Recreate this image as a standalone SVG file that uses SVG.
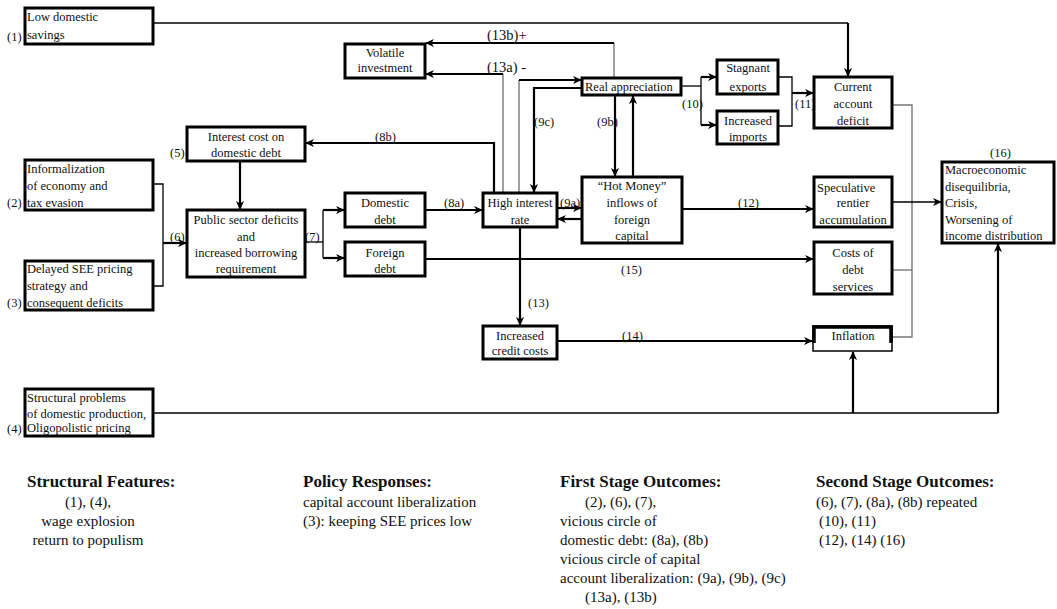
<svg xmlns="http://www.w3.org/2000/svg" width="1057" height="609" viewBox="0 0 1057 609">
<style>
.box{fill:#fff;stroke:#000;stroke-width:3}
text{font-family:"Liberation Serif","Times New Roman",serif;fill:#111}
.t{font-size:12.5px}
.m{text-anchor:middle}
.l{font-size:12.5px}
.big{font-size:14.5px}
.h{font-size:17px;font-weight:bold}
.b{font-size:15px}
.c{fill:none;stroke:#000;stroke-width:2.2}
.k{fill:none;stroke:#000;stroke-width:1.3}
.g{fill:none;stroke:#777;stroke-width:1.4}
.a{marker-end:url(#ah)}
</style>
<defs>
<marker id="ah" viewBox="0 0 10 10" refX="9" refY="5" markerWidth="9" markerHeight="9" markerUnits="userSpaceOnUse" orient="auto">
<path d="M0,0.5 L10,5 L0,9.5 L3,5 z" fill="#000"/>
</marker>
</defs>
<rect width="1057" height="609" fill="#fff"/>

<g id="connectors">
<path class="k" d="M153,23 H848"/>
<path class="c a" d="M848,23 V76"/>
<path class="g" d="M614,78 V43"/>
<path class="c a" d="M614,43 H426"/>
<path class="g" d="M503,193 V74"/>
<path class="c a" d="M503,74 H426"/>
<path class="g" d="M519,193 V80"/>
<path class="c a" d="M519,80 H581"/>
<path class="c a" d="M582,88 H534 V192"/>
<path class="c a" d="M615,95 V176"/>
<path class="c a" d="M633,177 V96"/>
<path class="c a" d="M557,208 H581"/>
<path class="c a" d="M582,219 H558"/>
<path class="c a" d="M425,210 H482"/>
<path class="c a" d="M494,193 V143 H306"/>
<path class="c a" d="M240,161 V209"/>
<path class="k" d="M153,184 H163 V286 H153"/>
<path class="c a" d="M163,243 H186"/>
<path class="k" d="M305,242 H323"/>
<path class="k" d="M323,210 V258"/>
<path class="c a" d="M323,210 H344"/>
<path class="c a" d="M323,258 H344"/>
<path class="c a" d="M425,259 H813"/>
<path class="c a" d="M520,227 V325"/>
<path class="c a" d="M557,341 H812"/>
<path class="k" d="M681,86 H701"/>
<path class="k" d="M701,77 V125"/>
<path class="c a" d="M701,77 H716"/>
<path class="c a" d="M701,125 H716"/>
<path class="k" d="M778,77 H792 V126 H778"/>
<path class="c a" d="M792,93 H813"/>
<path class="c a" d="M682,209 H813"/>
<path class="g" d="M892,105 H912 V337 H892"/>
<path class="g" d="M892,270 H912"/>
<path class="k a" d="M892,202 H941"/>
<path class="k" d="M153,413 H998"/>
<path class="c a" d="M998,413 V244"/>
<path class="c a" d="M853,413 V352"/>
<text class="big" x="487" y="40">(13b)+</text>
<text class="big" x="487" y="72">(13a) -</text>
<text class="l" x="534" y="126">(9c)</text>
<text class="l" x="597" y="126">(9b)</text>
<text class="l" x="375" y="141">(8b)</text>
<text class="l" x="444" y="207">(8a)</text>
<text class="l" x="560" y="207">(9a)</text>
<text class="l" x="738" y="207">(12)</text>
<text class="l" x="621" y="274">(15)</text>
<text class="l" x="528" y="307">(13)</text>
<text class="l" x="622" y="340">(14)</text>
<text class="l" x="682" y="108">(10)</text>
<text class="l" x="795" y="108">(11)</text>
<text class="l" x="305" y="241">(7)</text>
<text class="l" x="170" y="241">(6)</text>
</g>

<g id="n1">
<rect class="box" x="25" y="8" width="128" height="36"/>
<text class="t" x="27" y="21">Low domestic</text>
<text class="t" x="27" y="39">savings</text>
<text class="t" x="7" y="41">(1)</text>
</g>
<g id="n2">
<rect class="box" x="25" y="160" width="128" height="50"/>
<text class="t" x="27" y="173">Informalization</text>
<text class="t" x="27" y="190">of economy and</text>
<text class="t" x="27" y="207">tax evasion</text>
<text class="t" x="7" y="207">(2)</text>
</g>
<g id="n3">
<rect class="box" x="25" y="261" width="128" height="49"/>
<text class="t" x="27" y="273">Delayed SEE pricing</text>
<text class="t" x="27" y="290">strategy and</text>
<text class="t" x="27" y="307">consequent deficits</text>
<text class="t" x="7" y="307">(3)</text>
</g>
<g id="n4">
<rect class="box" x="25" y="389" width="128" height="47"/>
<text class="t" x="27" y="402">Structural problems</text>
<text class="t" x="27" y="418">of domestic production,</text>
<text class="t" x="27" y="432">Oligopolistic pricing</text>
<text class="t" x="7" y="433">(4)</text>
</g>
<g id="n5">
<rect class="box" x="187" y="127" width="118" height="34"/>
<text class="t m" x="246" y="141">Interest cost on</text>
<text class="t m" x="246" y="157">domestic debt</text>
<text class="t" x="170" y="157">(5)</text>
</g>
<g id="n6">
<rect class="box" x="187" y="210" width="118" height="67"/>
<text class="t m" x="246" y="224">Public sector deficits</text>
<text class="t m" x="246" y="241">and</text>
<text class="t m" x="246" y="257">increased borrowing</text>
<text class="t m" x="246" y="273">requirement</text>
</g>
<g id="n7">
<rect class="box" x="345" y="44" width="80" height="34"/>
<text class="t m" x="385" y="57">Volatile</text>
<text class="t m" x="385" y="72">investment</text>
</g>
<g id="n8">
<rect class="box" x="345" y="193" width="80" height="34"/>
<text class="t m" x="385" y="207">Domestic</text>
<text class="t m" x="385" y="224">debt</text>
</g>
<g id="n9">
<rect class="box" x="345" y="242" width="80" height="34"/>
<text class="t m" x="385" y="257">Foreign</text>
<text class="t m" x="385" y="273">debt</text>
</g>
<g id="n10">
<rect class="box" x="483" y="193" width="74" height="34"/>
<text class="t m" x="520" y="207">High interest</text>
<text class="t m" x="520" y="224">rate</text>
</g>
<g id="n11">
<rect class="box" x="483" y="326" width="74" height="33"/>
<text class="t m" x="520" y="340">Increased</text>
<text class="t m" x="520" y="355">credit costs</text>
</g>
<g id="n12">
<rect class="box" x="582" y="78" width="99" height="17"/>
<text class="t" x="585" y="91">Real appreciation</text>
</g>
<g id="n13">
<rect class="box" x="582" y="177" width="100" height="66"/>
<text class="t m" x="632" y="190">“Hot Money”</text>
<text class="t m" x="632" y="207">inflows of</text>
<text class="t m" x="632" y="224">foreign</text>
<text class="t m" x="632" y="240">capital</text>
</g>
<g id="n14">
<rect class="box" x="717" y="60" width="61" height="34"/>
<text class="t m" x="748" y="72">Stagnant</text>
<text class="t m" x="748" y="91">exports</text>
</g>
<g id="n15">
<rect class="box" x="717" y="111" width="61" height="33"/>
<text class="t m" x="748" y="125">Increased</text>
<text class="t m" x="748" y="141">imports</text>
</g>
<g id="n16">
<rect class="box" x="814" y="77" width="78" height="51"/>
<text class="t m" x="853" y="91">Current</text>
<text class="t m" x="853" y="108">account</text>
<text class="t m" x="853" y="125">deficit</text>
</g>
<g id="n17">
<rect class="box" x="814" y="177" width="78" height="50"/>
<text class="t" x="817" y="192">Speculative</text>
<text class="t m" x="853" y="207">rentier</text>
<text class="t m" x="853" y="224">accumulation</text>
</g>
<g id="n18">
<rect class="box" x="814" y="242" width="78" height="52"/>
<text class="t m" x="853" y="257">Costs of</text>
<text class="t m" x="853" y="274">debt</text>
<text class="t m" x="853" y="291">services</text>
</g>
<g id="n19">
<rect x="813" y="326" width="79" height="25" fill="#fff" stroke="#000" stroke-width="1.5"/>
<path d="M814,343 V327 H891 V343" fill="none" stroke="#000" stroke-width="3.5"/>
<text class="t m" x="853" y="340">Inflation</text>
</g>
<g id="n20">
<rect class="box" x="942" y="162" width="112" height="81"/>
<text class="t" x="990" y="157">(16)</text>
<text class="t" x="945" y="174">Macroeconomic</text>
<text class="t" x="945" y="191">disequilibria,</text>
<text class="t" x="945" y="207">Crisis,</text>
<text class="t" x="945" y="224">Worsening of</text>
<text class="t" x="945" y="240">income distribution</text>
</g>

<g id="legend">
<text class="h" x="27" y="487">Structural Features:</text>
<text class="b m" x="88" y="507">(1), (4),</text>
<text class="b m" x="88" y="526">wage explosion</text>
<text class="b m" x="88" y="545">return to populism</text>
<text class="h" x="303" y="487">Policy Responses:</text>
<text class="b" x="303" y="507">capital account liberalization</text>
<text class="b" x="303" y="526">(3): keeping SEE prices low</text>
<text class="h" x="560" y="487">First Stage Outcomes:</text>
<text class="b" x="585" y="507">(2), (6), (7),</text>
<text class="b" x="560" y="526">vicious circle of</text>
<text class="b" x="560" y="545">domestic debt: (8a), (8b)</text>
<text class="b" x="560" y="564">vicious circle of capital</text>
<text class="b" x="560" y="583">account liberalization: (9a), (9b), (9c)</text>
<text class="b" x="585" y="602">(13a), (13b)</text>
<text class="h" x="816" y="487">Second Stage Outcomes:</text>
<text class="b" x="816" y="507">(6), (7), (8a), (8b) repeated</text>
<text class="b" x="819" y="526">(10), (11)</text>
<text class="b" x="819" y="545">(12), (14) (16)</text>
</g>
</svg>
